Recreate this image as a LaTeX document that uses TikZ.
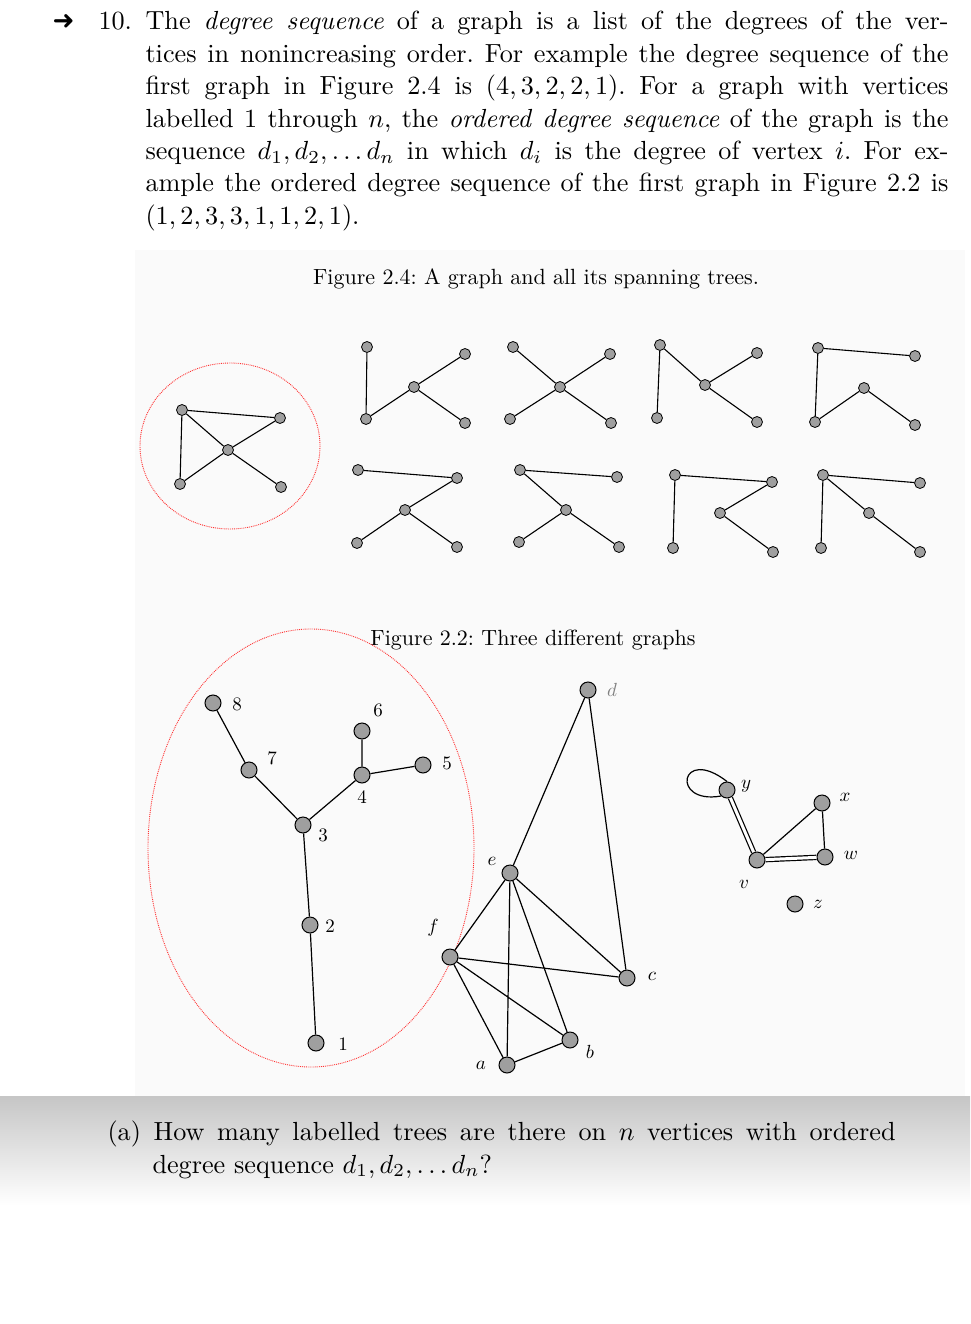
\documentclass[tikz,border=0pt]{standalone}
\usepackage{fontspec}
\newfontfamily\djv{DejaVu Sans}
\begin{document}
\frenchspacing
\begin{tikzpicture}[x=1pt,y=-1pt,
  v/.style={circle,draw=black,fill=gray!75,minimum size=11pt,inner sep=0pt,line width=0.8pt},
  vb/.style={circle,draw=black,fill=gray!75,minimum size=16pt,inner sep=0pt,line width=1pt},
  e/.style={line width=1.1pt},
  eb/.style={line width=1.2pt},
  txt/.style={anchor=base west,inner sep=0pt,font=\fontsize{10}{12}\selectfont,scale=2.62,transform shape},
  lab/.style={inner sep=0pt,font=\fontsize{10}{12}\selectfont,scale=1.9,transform shape},
  captxt/.style={inner sep=0pt,font=\fontsize{10}{12}\selectfont,scale=2.2,transform shape},
  redov/.style={red!80,densely dotted,line width=0.9pt}]
\useasboundingbox (0,0) rectangle (970,1324);
\fill[gray!4] (135,250) rectangle (965,1096);
\shade[top color=gray!45,bottom color=white] (0,1096) rectangle (970,1205);
% text
\node[txt] (arr) at (52,30) {\djv ➜};
\node[txt] (n10) at (98,30) {10.};
\node[txt] (l1) at (145,30) {\makebox[306.5pt][s]{The \emph{degree sequence} of a graph is a list of the degrees of the ver-}};
\node[txt] (l2) at (145,63) {\makebox[306.5pt][s]{tices in nonincreasing order. For example the degree sequence of the}};
\node[txt] (l3) at (145,95) {\makebox[306.5pt][s]{first graph in Figure 2.4 is $(4,3,2,2,1)$. For a graph with vertices}};
\node[txt] (l4) at (145,128) {\makebox[306.5pt][s]{labelled 1 through $n$, the \emph{ordered degree sequence} of the graph is the}};
\node[txt] (l5) at (145,160) {\makebox[306.5pt][s]{sequence $d_1,d_2,\ldots d_n$ in which $d_i$ is the degree of vertex $i$. For ex-}};
\node[txt] (l6) at (145,192) {\makebox[306.5pt][s]{ample the ordered degree sequence of the first graph in Figure 2.2 is}};
\node[txt] (l7) at (145,225) {$(1,2,3,3,1,1,2,1)$.};
\node[captxt] (c24) at (536,279) {Figure 2.4: A graph and all its spanning trees.};
\node[captxt] (c22) at (533,640) {Figure 2.2: Three different graphs};
\node[txt] (q1) at (107,1140) {\makebox[300.8pt][s]{(a) How many labelled trees are there on $n$ vertices with ordered}};
\node[txt] (q2) at (152,1173) {degree sequence $d_1,d_2,\ldots d_n$?};
% Figure 2.4 graph
\draw[redov] (230,446) ellipse (90 and 83);
\node[v] (ga) at (182,410) {}; \node[v] (gb) at (280,418) {}; \node[v] (gc) at (228,450) {};
\node[v] (gd) at (180,484) {}; \node[v] (ge) at (281,487) {};
\draw[e] (ga)--(gb) (ga)--(gd) (ga)--(gc) (gb)--(gc) (gc)--(gd) (gc)--(ge);
% spanning trees
\foreach \n/\a/\b/\c/\d/\f/\g/\h/\i/\j/\k in {
 1/367/347/465/354/414/387/366/419/465/423,
 2/513/347/610/354/560/387/510/419/611/423,
 3/660/345/757/353/705/385/657/418/757/422,
 4/818/348/915/356/864/388/815/422/915/425,
 5/358/470/457/478/405/510/357/543/457/547,
 6/520/470/617/477/566/510/519/542/619/547,
 7/675/475/772/482/720/513/673/548/773/552,
 8/823/475/920/483/869/513/821/548/920/552}{
 \node[v] (t\n a) at (\a,\b) {}; \node[v] (t\n b) at (\c,\d) {};
 \node[v] (t\n c) at (\f,\g) {}; \node[v] (t\n d) at (\h,\i) {};
 \node[v] (t\n e) at (\j,\k) {};
}
\draw[e] (t1a)--(t1d) (t1d)--(t1c) (t1c)--(t1b) (t1c)--(t1e);
\draw[e] (t2a)--(t2c) (t2b)--(t2c) (t2d)--(t2c) (t2e)--(t2c);
\draw[e] (t3a)--(t3d) (t3a)--(t3c) (t3c)--(t3b) (t3c)--(t3e);
\draw[e] (t4a)--(t4b) (t4a)--(t4d) (t4d)--(t4c) (t4c)--(t4e);
\draw[e] (t5a)--(t5b) (t5b)--(t5c) (t5c)--(t5d) (t5c)--(t5e);
\draw[e] (t6a)--(t6b) (t6a)--(t6c) (t6c)--(t6d) (t6c)--(t6e);
\draw[e] (t7a)--(t7b) (t7a)--(t7d) (t7b)--(t7c) (t7c)--(t7e);
\draw[e] (t8a)--(t8b) (t8a)--(t8d) (t8a)--(t8c) (t8c)--(t8e);
% Figure 2.2 tree
\draw[redov] (311,848) ellipse (163 and 219);
\node[vb] (p8) at (213,703) {}; \node[vb] (p7) at (249,770) {}; \node[vb] (p3) at (303,825) {};
\node[vb] (p6) at (362,731) {}; \node[vb] (p4) at (362,775) {}; \node[vb] (p5) at (423,765) {};
\node[vb] (p2) at (310,925) {}; \node[vb] (p1) at (316,1043) {};
\draw[eb] (p8)--(p7) (p7)--(p3) (p3)--(p4) (p4)--(p6) (p4)--(p5) (p3)--(p2) (p2)--(p1);
\node[lab] at (237,704) {8}; \node[lab] at (272,758) {7}; \node[lab] at (323,835) {3};
\node[lab] at (378,710) {6}; \node[lab] at (362,797) {4}; \node[lab] at (447,763) {5};
\node[lab] at (330,926) {2}; \node[lab] at (343,1044) {1};
% middle graph
\node[vb] (d) at (588,690) {}; \node[vb] (e) at (510,873) {}; \node[vb] (f) at (450,957) {};
\node[vb] (c) at (627,978) {}; \node[vb] (b) at (570,1040) {}; \node[vb] (a) at (507,1065) {};
\draw[eb] (d)--(e) (d)--(c) (e)--(f) (e)--(a) (e)--(b) (e)--(c) (f)--(c) (f)--(b) (f)--(a) (a)--(b);
\node[lab,text=gray] at (612,690) {$d$}; \node[lab] at (492,861) {$e$}; \node[lab] at (433,928) {$f$};
\node[lab] at (652,976) {$c$}; \node[lab] at (590,1052) {$b$}; \node[lab] at (481,1065) {$a$};
% right graph
\node[vb] (y) at (727,790) {}; \node[vb] (x) at (822,803) {}; \node[vb] (w) at (825,857) {};
\node[vb] (vv) at (757,860) {}; \node[vb] (z) at (795,904) {};
\draw[eb,double,double distance=3pt] (y)--(vv) (vv)--(w);
\draw[eb] (vv)--(x) (x)--(w);
\draw[eb] (y.south west) .. controls (670,805) and (680,745) .. (y.north);
\node[lab] at (746,786) {$y$}; \node[lab] at (845,797) {$x$}; \node[lab] at (851,855) {$w$};
\node[lab] at (744,884) {$v$}; \node[lab] at (818,904) {$z$};
\end{tikzpicture}
\end{document}
